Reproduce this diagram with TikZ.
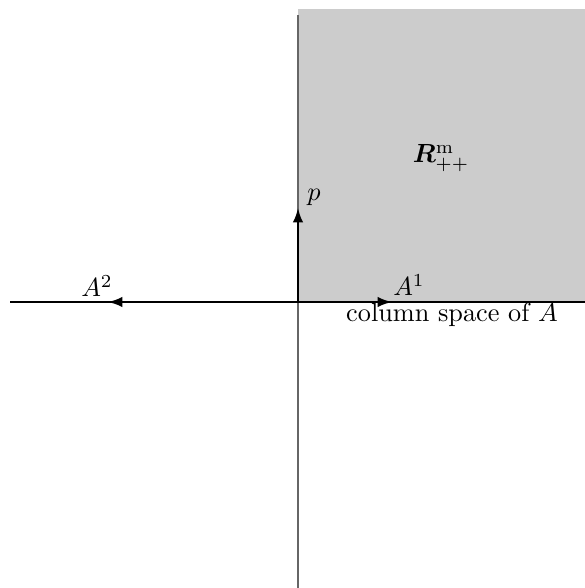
\documentclass[tikz,border=0pt]{standalone}
\usepackage{amsmath,amssymb,bm}
\usetikzlibrary{arrows.meta}
\begin{document}
\begin{tikzpicture}[x=0.381pt,y=-0.381pt,
  vec/.style={line width=0.8pt,-{Latex[length=5.5pt,width=4pt]}},
  axis/.style={line width=0.4pt},
  lbl/.style={inner sep=0pt}]
\useasboundingbox (0,0) rectangle (585,588);
\fill[black!20] (298,9) rectangle (585,302);
\draw[axis,black!60] (298,15) -- (298,588);
\draw[axis] (10,302) -- (585,302);
\coordinate (o) at (298,302);
\coordinate (p) at (298,208);
\coordinate (a1) at (392,302);
\coordinate (a2) at (108,302);
\draw[vec] (o) -- (p);
\draw[vec] (o) -- (a1);
\draw[vec] (o) -- (a2);
\node[lbl] (plbl) at (314,197) {$p$};
\node[lbl] (a1lbl) at (409,285) {$A^1$};
\node[lbl] (a2lbl) at (97,286) {$A^2$};
\node[lbl] (cs) at (452,315) {column space of $A$};
\node[lbl] (R) at (441,158) {$\bm{R}^{\mathrm{m}}_{++}$};
\end{tikzpicture}
\end{document}
